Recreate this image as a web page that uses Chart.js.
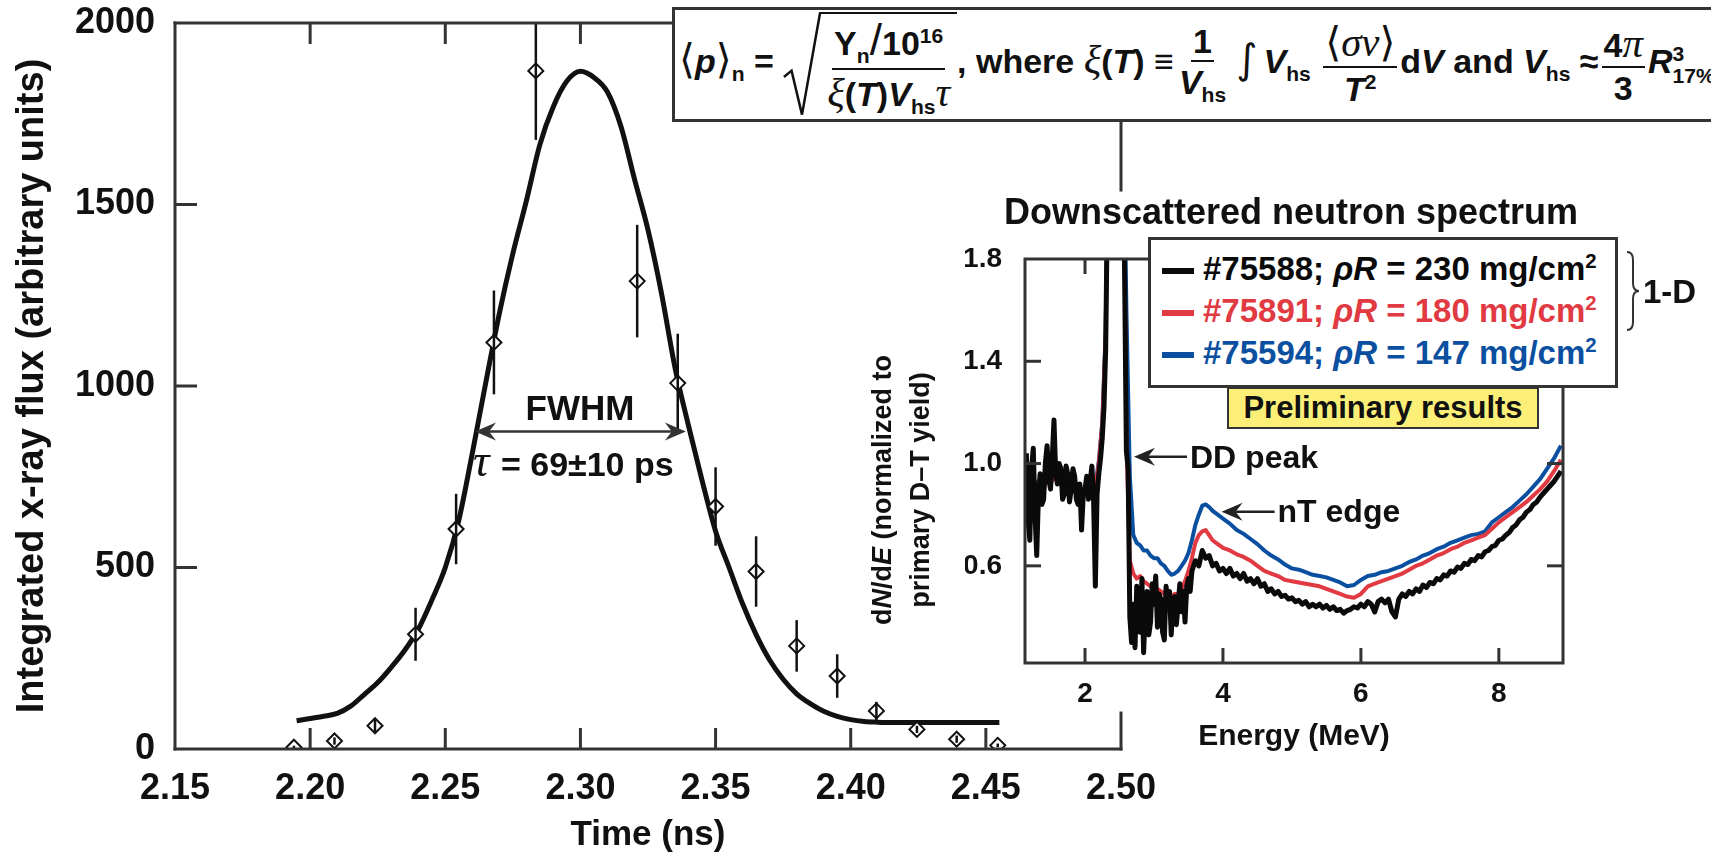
<!DOCTYPE html>
<html>
<head>
<meta charset="utf-8">
<script src="https://cdn.jsdelivr.net/npm/chart.js@4.4.1/dist/chart.umd.min.js"></script>
<style>
  html, body { margin: 0; padding: 0; background: #fff; }
  body {
    width: 1711px; height: 853px; position: relative; overflow: hidden;
    font-family: "Liberation Sans", Arial, sans-serif; font-weight: bold; color: #111;
  }
  canvas { position: absolute; }
  #mainChart { left: 0; top: 0; }
  #insetChart { left: 850px; top: 185px; }

  #formula {
    position: absolute; left: 672px; top: 7px; width: 1120px; height: 115px;
    box-sizing: border-box; border: 3px solid #333; background: #fff;
    display: flex; align-items: center; padding-left: 4px;
    font-size: 34px; white-space: nowrap; line-height: 1;
  }
  #formula i { font-style: italic; }
  #formula .g { font-family: "Liberation Serif", "DejaVu Serif", serif; font-size: 1.2em; font-weight: normal; }
  #formula .ang { font-family: "DejaVu Sans", sans-serif; font-weight: normal; font-size: 1.2em; }
  #formula sub, #formula sup { font-size: 0.62em; }
  #formula .frac { display: inline-flex; flex-direction: column; align-items: center; vertical-align: middle; margin: 0 3px; }
  #formula .num { border-bottom: 2.5px solid #111; padding: 0 2px 2px; }
  #formula .den { padding: 3px 2px 0; }
  #formula .sqrt { position: relative; display: inline-block; vertical-align: middle; padding-left: 36px; }
  #formula .sqrt svg { position: absolute; left: 0; top: 0; width: 38px; height: 100%; overflow: visible; }
  #formula .sqrt path { fill: none; stroke: #111; stroke-width: 2.5; vector-effect: non-scaling-stroke; }
  #formula .rad { display: inline-block; border-top: 2.5px solid #111; padding: 4px 2px 0 3px; }
  #formula .sl { font-size: 1.3em; font-weight: normal; }
  #formula .int { font-family: "DejaVu Sans", sans-serif; font-weight: normal; font-size: 1.2em; margin: 0 6px 0 5px; }
  #formula .ss { display: inline-flex; flex-direction: column; vertical-align: middle; font-size: 0.62em; line-height: 1; }

  #legendBox {
    position: absolute; left: 1148px; top: 237px; width: 470px; height: 151px;
    box-sizing: border-box; border: 3px solid #333; background: #fff;
    padding: 8px 0 0 11px; font-size: 33px;
  }
  #legendBox .row { height: 42px; line-height: 42px; white-space: nowrap; }
  #legendBox .sw { display: inline-block; width: 32px; height: 6px; vertical-align: middle; margin-right: 9px; }
  #legendBox sup { font-size: 0.62em; vertical-align: 0.6em; line-height: 0; }

  #prelim {
    position: absolute; left: 1227px; top: 387px; width: 312px; height: 42px;
    box-sizing: border-box; border: 2px solid #333; background: #fbef77;
    font-size: 31px; text-align: center; line-height: 38px;
  }
</style>
</head>
<body>
<canvas id="mainChart" width="1711" height="853"></canvas>
<canvas id="insetChart" width="861" height="580"></canvas>

<div id="formula"><span>
  <span class="ang">⟨</span><i>p</i><span class="ang">⟩</span><sub>n</sub> =
  <span class="sqrt"><svg viewBox="0 0 40 100" preserveAspectRatio="none"><path d="M1 62 L9 56 L20 98 L39 1" /></svg><span class="rad"><span class="frac"><span class="num">Y<sub>n</sub><span class="sl">/</span>10<sup>16</sup></span><span class="den"><i class="g">ξ</i>(<i>T</i>)<i>V</i><sub>hs</sub><i class="g">τ</i></span></span></span></span>, where <i class="g">ξ</i>(<i>T</i>) ≡<span class="frac"><span class="num">1</span><span class="den"><i>V</i><sub>hs</sub></span></span><span class="int">∫</span><i>V</i><sub>hs</sub>
  <span class="frac"><span class="num"><span class="ang">⟨</span><i class="g">σν</i><span class="ang">⟩</span></span><span class="den"><i>T</i><sup>2</sup></span></span>d<i>V</i> and <i>V</i><sub>hs</sub> ≈<span class="frac"><span class="num">4<i class="g">π</i></span><span class="den">3</span></span><i>R</i><span class="ss"><span>3</span><span>17%</span></span>
</span></div>

<div id="legendBox"></div>
<div id="prelim">Preliminary results</div>

<script>
// ---- main plot: x-ray flux vs time ----
const timeTicks = [2.15, 2.20, 2.25, 2.30, 2.35, 2.40, 2.45, 2.50]
const fluxTicks = [0, 500, 1000, 1500, 2000]

// fitted curve
const fitTime = [2.195, 2.200, 2.205, 2.210, 2.215, 2.220, 2.225, 2.230, 2.235, 2.240, 2.245, 2.250,
  2.255, 2.260, 2.265, 2.270, 2.275, 2.280, 2.285, 2.290, 2.295, 2.300, 2.305, 2.310, 2.315, 2.320,
  2.325, 2.330, 2.335, 2.340, 2.345, 2.350, 2.355, 2.360, 2.365, 2.370, 2.375, 2.380, 2.385, 2.390,
  2.395, 2.400, 2.405, 2.410, 2.415, 2.455]
const fitFlux = [78, 84, 90, 98, 118, 150, 183, 225, 272, 330, 410, 500,
  630, 815, 1010, 1200, 1365, 1510, 1665, 1770, 1840, 1867, 1850, 1810, 1715, 1570,
  1430, 1255, 1050, 890, 740, 600, 500, 400, 315, 245, 192, 152, 125, 104,
  90, 81, 76, 74, 73, 73]

// measured points with error bars
const dataTime = [2.194, 2.209, 2.224, 2.239, 2.254, 2.268, 2.2835, 2.321, 2.336, 2.350, 2.365,
  2.380, 2.395, 2.4095, 2.4245, 2.4392, 2.4544]
const dataFlux = [5, 22, 64, 316, 606, 1120, 1868, 1289, 1008, 668, 489, 284, 201, 105, 54, 27, 10]
const dataErr = [4, 10, 18, 73, 97, 143, 190, 155, 136, 108, 97, 71, 60, 25, 10, 10, 5]

// ---- inset: downscattered neutron spectrum ----
const energyTicks = [2, 4, 6, 8]
const dndeTicks = [0.6, 1.0, 1.4, 1.8]
const shots = ["#75588", "#75891", "#75594"]
const rhoR = [230, 180, 147]
const shotColors = ["#0a0a0a", "#e13a42", "#0b50a0"]

// #75588 (black), sampled finer where it is noisy
const energy75588 = [
  1.150, 1.175, 1.200, 1.225, 1.250, 1.275, 1.300, 1.325, 1.350, 1.375,
  1.400, 1.425, 1.450, 1.475, 1.500, 1.525, 1.550, 1.575, 1.600, 1.625,
  1.650, 1.675, 1.700, 1.725, 1.750, 1.775, 1.800, 1.825, 1.850, 1.875,
  1.900, 1.925, 1.950, 1.975, 2.000, 2.025, 2.050, 2.075, 2.100, 2.125,
  2.150, 2.175, 2.200, 2.225, 2.250, 2.275, 2.300,
  2.35, 2.40, 2.45, 2.50, 2.55, 2.60,
  2.625, 2.650, 2.675, 2.700, 2.725, 2.750, 2.775, 2.800, 2.825, 2.850,
  2.875, 2.900, 2.925, 2.950, 2.975, 3.000, 3.025, 3.050, 3.075, 3.100,
  3.125, 3.150, 3.175, 3.200, 3.225, 3.250, 3.275, 3.300, 3.325, 3.350,
  3.375, 3.400, 3.425, 3.450, 3.475, 3.500, 3.525, 3.550,
  3.60, 3.65, 3.70, 3.75, 3.80, 3.85, 3.90, 3.95, 4.00, 4.05,
  4.10, 4.15, 4.20, 4.25, 4.30, 4.35, 4.40, 4.45, 4.50, 4.55,
  4.60, 4.65, 4.70, 4.75, 4.80, 4.85, 4.90, 4.95, 5.00, 5.05,
  5.10, 5.15, 5.20, 5.25, 5.30, 5.35, 5.40, 5.45, 5.50, 5.55,
  5.60, 5.65, 5.70, 5.75, 5.80, 5.85, 5.90, 5.95, 6.00, 6.05,
  6.10, 6.15, 6.20, 6.25, 6.30, 6.35, 6.40, 6.45, 6.50, 6.55,
  6.60, 6.65, 6.70, 6.75, 6.80, 6.85, 6.90, 6.95, 7.00, 7.05,
  7.10, 7.15, 7.20, 7.25, 7.30, 7.35, 7.40, 7.45, 7.50, 7.55,
  7.60, 7.65, 7.70, 7.75, 7.80, 7.85, 7.90, 7.95, 8.00, 8.05,
  8.10, 8.15, 8.20, 8.25, 8.30, 8.35, 8.40, 8.45, 8.50, 8.55,
  8.60, 8.65, 8.70, 8.75, 8.80, 8.85, 8.90]
const spec75588 = [
  1.04, 0.78, 0.70, 0.98, 1.06, 0.80, 0.64, 0.88, 0.96, 0.84,
  0.86, 1.00, 1.07, 0.94, 0.90, 1.02, 1.17, 0.96, 0.92, 1.00,
  0.98, 0.86, 0.88, 0.99, 0.96, 0.85, 0.90, 0.98, 0.95, 0.86,
  0.84, 0.92, 0.74, 0.88, 0.90, 0.95, 0.86, 0.93, 0.99, 0.85,
  0.52, 0.88, 0.96, 1.02, 1.10, 1.22, 1.45,
  2.60, 3.00, 3.20, 3.00, 2.40, 1.05,
  0.98, 0.40, 0.30, 0.45, 0.28, 0.52, 0.40, 0.34, 0.55, 0.26,
  0.44, 0.50, 0.33, 0.38, 0.53, 0.45, 0.56, 0.36, 0.49, 0.47,
  0.34, 0.31, 0.52, 0.44, 0.50, 0.33, 0.46, 0.48, 0.37, 0.45,
  0.53, 0.42, 0.50, 0.38, 0.52, 0.55, 0.50, 0.58,
  0.62, 0.60, 0.66, 0.63, 0.64, 0.60, 0.61, 0.58, 0.59, 0.57,
  0.59, 0.56, 0.57, 0.55, 0.57, 0.54, 0.55, 0.53, 0.55, 0.52,
  0.53, 0.50, 0.51, 0.49, 0.50, 0.48, 0.485, 0.47, 0.475, 0.46,
  0.465, 0.45, 0.46, 0.44, 0.45, 0.44, 0.45, 0.435, 0.445, 0.43,
  0.44, 0.425, 0.43, 0.415, 0.425, 0.43, 0.44, 0.435, 0.45, 0.44,
  0.46, 0.45, 0.42, 0.46, 0.47, 0.455, 0.47, 0.42, 0.40, 0.47,
  0.49, 0.48, 0.50, 0.49, 0.51, 0.50, 0.525, 0.515, 0.535, 0.53,
  0.55, 0.545, 0.565, 0.56, 0.58, 0.575, 0.595, 0.59, 0.61, 0.605,
  0.625, 0.62, 0.64, 0.635, 0.655, 0.66, 0.675, 0.68, 0.70, 0.705,
  0.72, 0.73, 0.75, 0.76, 0.78, 0.79, 0.81, 0.82, 0.84, 0.85,
  0.87, 0.885, 0.90, 0.915, 0.93, 0.95, 0.97]

// #75891 (red) and #75594 (blue)
const energy = [1.15, 1.20, 1.25, 1.30, 1.35, 1.40, 1.45, 1.50, 1.55, 1.60, 1.65, 1.70, 1.75, 1.80,
  1.85, 1.90, 1.95, 2.00, 2.05, 2.10, 2.15, 2.20, 2.25, 2.30, 2.35, 2.40, 2.45, 2.50, 2.55, 2.60,
  2.65, 2.70, 2.75, 2.80, 2.85, 2.90, 2.95, 3.00, 3.05, 3.10, 3.15, 3.20, 3.25, 3.30, 3.35, 3.40,
  3.45, 3.50, 3.55, 3.60, 3.65, 3.70, 3.75, 3.80, 3.85,
  3.9, 4.0, 4.1, 4.2, 4.3, 4.4, 4.5, 4.6, 4.7, 4.8, 4.9, 5.0, 5.1, 5.2, 5.3, 5.4, 5.5, 5.6, 5.7,
  5.8, 5.9, 6.0, 6.1, 6.2, 6.3, 6.4, 6.5, 6.6, 6.7, 6.8, 6.9, 7.0, 7.1, 7.2, 7.3, 7.4, 7.5, 7.6,
  7.7, 7.8, 7.9, 8.0, 8.1, 8.2, 8.3, 8.4, 8.5, 8.6, 8.7, 8.8, 8.9]

const spec75891 = [0.95, 0.92, 0.93, 0.90, 0.92, 0.91, 0.93, 0.92, 0.95, 0.93, 0.94, 0.92, 0.93, 0.92,
  0.92, 0.90, 0.88, 0.90, 0.90, 0.95, 0.90, 1.00, 1.15, 1.50, 2.60, 3.00, 3.20, 3.00, 2.45, 1.10,
  0.62, 0.57, 0.55, 0.56, 0.54, 0.53, 0.52, 0.52, 0.51, 0.50, 0.49, 0.49, 0.48, 0.49, 0.49, 0.51,
  0.54, 0.58, 0.63, 0.69, 0.72, 0.735, 0.74, 0.72, 0.70,
  0.69, 0.67, 0.66, 0.645, 0.635, 0.62, 0.60, 0.58, 0.57, 0.56, 0.545, 0.54, 0.535, 0.53, 0.525, 0.52,
  0.51, 0.50, 0.49, 0.48, 0.475, 0.49, 0.52, 0.53, 0.54, 0.55, 0.56, 0.57, 0.585, 0.60, 0.61, 0.625,
  0.64, 0.65, 0.665, 0.675, 0.69, 0.70, 0.71, 0.72, 0.745, 0.77, 0.79, 0.81, 0.83, 0.85, 0.875, 0.90,
  0.93, 0.97, 1.015]

const spec75594 = [1.02, 0.95, 0.94, 0.92, 0.93, 0.92, 0.94, 0.93, 0.96, 0.94, 0.95, 0.93, 0.94, 0.93,
  0.93, 0.91, 0.89, 0.91, 0.91, 0.96, 0.91, 1.01, 1.16, 1.52, 2.60, 3.00, 3.20, 3.00, 2.50, 1.60,
  0.95, 0.72, 0.69, 0.68, 0.66, 0.66, 0.64, 0.63, 0.63, 0.61, 0.60, 0.58, 0.565, 0.57, 0.58, 0.60,
  0.62, 0.65, 0.70, 0.76, 0.80, 0.835, 0.84, 0.83, 0.815,
  0.805, 0.785, 0.765, 0.74, 0.725, 0.705, 0.685, 0.66, 0.64, 0.625, 0.605, 0.59, 0.585, 0.575, 0.565, 0.56,
  0.555, 0.545, 0.535, 0.52, 0.525, 0.545, 0.56, 0.565, 0.575, 0.58, 0.59, 0.60, 0.615, 0.625, 0.64, 0.65,
  0.665, 0.675, 0.69, 0.70, 0.71, 0.72, 0.725, 0.735, 0.77, 0.79, 0.81, 0.83, 0.855, 0.88, 0.91, 0.94,
  0.98, 1.02, 1.07]

const FONT = '"Liberation Sans", Arial, sans-serif'
const INK = "#111"
const AXIS = "#333"

function line(ctx, x1, y1, x2, y2) {
  ctx.beginPath()
  ctx.moveTo(x1, y1)
  ctx.lineTo(x2, y2)
  ctx.stroke()
}

// barbed arrow head, dir = -1 points left, +1 points right
function arrowHead(ctx, x, y, dir) {
  ctx.beginPath()
  ctx.moveTo(x, y)
  ctx.lineTo(x - dir * 21, y - 9)
  ctx.lineTo(x - dir * 14, y)
  ctx.lineTo(x - dir * 21, y + 9)
  ctx.closePath()
  ctx.fill()
}

// text made of plain and italic pieces
function drawRich(ctx, parts, x, y, size, align) {
  const fontOf = (p) => (p[1] ? "italic " : "") + "bold " + size + "px " + FONT
  let total = 0
  parts.forEach((p) => { ctx.font = fontOf(p); total += ctx.measureText(p[0]).width })
  let cx = align === "center" ? x - total / 2 : x
  ctx.textAlign = "left"
  parts.forEach((p) => {
    ctx.font = fontOf(p)
    ctx.fillText(p[0], cx, y)
    cx += ctx.measureText(p[0]).width
  })
}

const mainDecor = {
  id: "mainDecor",
  afterDatasetsDraw(chart) {
    const { ctx, chartArea: a, scales: { x, y } } = chart
    // error bars
    ctx.save()
    ctx.beginPath()
    ctx.rect(a.left, a.top, a.right - a.left, a.bottom - a.top)
    ctx.clip()
    ctx.strokeStyle = INK
    ctx.lineWidth = 2.5
    dataTime.forEach((t, i) => {
      const px = x.getPixelForValue(t)
      line(ctx, px, y.getPixelForValue(dataFlux[i] + dataErr[i]), px, y.getPixelForValue(dataFlux[i] - dataErr[i]))
    })
    ctx.restore()

    // frame with inward ticks; right side hidden behind the inset
    ctx.save()
    ctx.strokeStyle = AXIS
    ctx.lineWidth = 3
    ctx.lineCap = "square"
    line(ctx, a.left, a.top, a.left, a.bottom)
    line(ctx, a.left, a.bottom, a.right, a.bottom)
    line(ctx, a.left, a.top, a.right, a.top)
    line(ctx, a.right, a.top, a.right, 190)
    line(ctx, a.right, 713, a.right, a.bottom)
    ctx.lineCap = "butt"
    timeTicks.slice(1, -1).forEach((t) => {
      const px = x.getPixelForValue(t)
      line(ctx, px, a.bottom, px, a.bottom - 21)
      line(ctx, px, a.top, px, a.top + 21)
    })
    fluxTicks.slice(1, -1).forEach((v) => {
      const py = y.getPixelForValue(v)
      line(ctx, a.left, py, a.left + 22, py)
    })

    // FWHM marker
    const xl = x.getPixelForValue(2.261)
    const xr = x.getPixelForValue(2.339)
    const ya = y.getPixelForValue(875)
    ctx.strokeStyle = AXIS
    ctx.fillStyle = AXIS
    ctx.lineWidth = 2.5
    line(ctx, xl + 12, ya, xr - 12, ya)
    arrowHead(ctx, xl, ya, -1)
    arrowHead(ctx, xr, ya, 1)
    ctx.fillStyle = INK
    ctx.textBaseline = "alphabetic"
    ctx.textAlign = "center"
    ctx.font = "bold 35px " + FONT
    ctx.fillText("FWHM", 580, ya - 11)
    ctx.textAlign = "left"
    ctx.font = "italic 46px 'Liberation Serif', 'DejaVu Serif', serif"
    ctx.fillText("τ", xl - 2, ya + 45)
    const tw = ctx.measureText("τ").width
    ctx.font = "bold 34px " + FONT
    ctx.fillText(" = 69±10 ps", xl - 2 + tw + 2, ya + 45)
    ctx.restore()
  },
}

new Chart(document.getElementById("mainChart"), {
  type: "line",
  data: {
    datasets: [
      {
        type: "scatter",
        label: "Measured",
        data: dataTime.map((t, i) => ({ x: t, y: dataFlux[i] })),
        pointStyle: "rectRot",
        pointRadius: 7.5,
        pointBackgroundColor: "#fff",
        pointBorderColor: INK,
        pointBorderWidth: 2,
      },
      {
        label: "Fit",
        data: fitTime.map((t, i) => ({ x: t, y: fitFlux[i] })),
        borderColor: INK,
        borderWidth: 5,
        pointRadius: 0,
        cubicInterpolationMode: "monotone",
        fill: false,
      },
    ],
  },
  options: {
    responsive: false,
    animation: false,
    layout: { padding: { left: 0, top: 23, right: 590, bottom: 0 } },
    plugins: { legend: { display: false }, tooltip: { enabled: false } },
    scales: {
      x: {
        type: "linear",
        min: 2.15,
        max: 2.5,
        afterBuildTicks: (s) => { s.ticks = timeTicks.map((v) => ({ value: v })) },
        afterFit: (s) => { s.height = 104 },
        grid: { display: false },
        border: { display: false },
        ticks: {
          color: INK, autoSkip: false, maxRotation: 0, padding: 10,
          font: { family: FONT, size: 36, weight: "bold" },
          callback: (v) => Number(v).toFixed(2),
        },
        title: {
          display: true, text: "Time (ns)", color: INK,
          font: { family: FONT, size: 35, weight: "bold", lineHeight: 1 },
          padding: { top: 0, bottom: 0 },
        },
      },
      y: {
        type: "linear",
        min: 0,
        max: 2000,
        afterBuildTicks: (s) => { s.ticks = fluxTicks.map((v) => ({ value: v })) },
        afterFit: (s) => { s.width = 175 },
        grid: { display: false },
        border: { display: false },
        ticks: {
          color: INK, padding: 12,
          font: { family: FONT, size: 36, weight: "bold", lineHeight: 0.6 },
          callback: (v) => String(v),
        },
        title: {
          display: true, text: "Integrated x-ray flux (arbitrary units)", color: INK,
          font: { family: FONT, size: 38, weight: "bold", lineHeight: 1 },
          padding: { top: 14, bottom: 0 },
        },
      },
    },
  },
  plugins: [mainDecor],
})

const insetDecor = {
  id: "insetDecor",
  afterDatasetsDraw(chart) {
    const { ctx, chartArea: a, scales: { x, y } } = chart
    ctx.save()
    ctx.strokeStyle = AXIS
    ctx.lineWidth = 3
    ctx.lineCap = "square"
    ctx.strokeRect(a.left, a.top, a.right - a.left, a.bottom - a.top)
    ctx.lineCap = "butt"
    energyTicks.forEach((e) => {
      const px = x.getPixelForValue(e)
      line(ctx, px, a.bottom, px, a.bottom - 15)
      line(ctx, px, a.top, px, a.top + 15)
    })
    dndeTicks.slice(0, -1).forEach((v) => {
      const py = y.getPixelForValue(v)
      line(ctx, a.left, py, a.left + 16, py)
      line(ctx, a.right, py, a.right - 16, py)
    })

    ctx.fillStyle = INK
    ctx.textBaseline = "alphabetic"

    // title
    ctx.textAlign = "center"
    ctx.font = "bold 36px " + FONT
    ctx.fillText("Downscattered neutron spectrum", (a.left + a.right) / 2 - 3, 39)

    // y title, two rotated lines
    ctx.save()
    ctx.translate(34, 305)
    ctx.rotate(-Math.PI / 2)
    ctx.textBaseline = "middle"
    drawRich(ctx, [["d", false], ["N", true], ["/d", false], ["E", true], [" (normalized to", false]], 0, 0, 27, "center")
    ctx.restore()
    ctx.save()
    ctx.translate(72, 305)
    ctx.rotate(-Math.PI / 2)
    ctx.textBaseline = "middle"
    drawRich(ctx, [["primary D–T yield)", false]], 0, 0, 27, "center")
    ctx.restore()

    // arrows to features
    ctx.strokeStyle = "#222"
    ctx.fillStyle = "#222"
    ctx.lineWidth = 2.5
    const dd = { x: x.getPixelForValue(2.71), y: y.getPixelForValue(1.027) }
    line(ctx, dd.x + 14, dd.y, dd.x + 53, dd.y)
    arrowHead(ctx, dd.x, dd.y, -1)
    const nt = { x: x.getPixelForValue(3.98), y: y.getPixelForValue(0.812) }
    line(ctx, nt.x + 14, nt.y, nt.x + 53, nt.y)
    arrowHead(ctx, nt.x, nt.y, -1)
    ctx.fillStyle = INK
    ctx.textAlign = "left"
    ctx.font = "bold 32px " + FONT
    ctx.fillText("DD peak", dd.x + 56, dd.y + 11)
    ctx.fillText("nT edge", nt.x + 56, nt.y + 10)

    // brace for the 1-D group
    const bx = 777, bt = 67, bb = 145, bm = 106
    ctx.strokeStyle = AXIS
    ctx.lineWidth = 2
    ctx.beginPath()
    ctx.moveTo(bx, bt)
    ctx.quadraticCurveTo(bx + 6, bt, bx + 6, bt + 8)
    ctx.lineTo(bx + 6, bm - 8)
    ctx.quadraticCurveTo(bx + 6, bm, bx + 12, bm)
    ctx.quadraticCurveTo(bx + 6, bm, bx + 6, bm + 8)
    ctx.lineTo(bx + 6, bb - 8)
    ctx.quadraticCurveTo(bx + 6, bb, bx, bb)
    ctx.stroke()
    ctx.font = "bold 33px " + FONT
    ctx.fillText("1-D", bx + 16, bm + 12)
    ctx.restore()
  },
}

const spectra = [
  { e: energy75588, v: spec75588, w: 5 },
  { e: energy, v: spec75891, w: 4 },
  { e: energy, v: spec75594, w: 4 },
]
new Chart(document.getElementById("insetChart"), {
  type: "line",
  data: {
    datasets: spectra.map((s, k) => ({
      label: shots[k] + "; ρR = " + rhoR[k] + " mg/cm²",
      data: s.e.map((e, i) => ({ x: e, y: s.v[i] })),
      borderColor: shotColors[k],
      borderWidth: s.w,
      pointRadius: 0,
      tension: 0,
      borderJoinStyle: "round",
      fill: false,
    })),
  },
  options: {
    responsive: false,
    animation: false,
    layout: { padding: { left: 115, top: 74, right: 148, bottom: 0 } },
    plugins: { legend: { display: false }, tooltip: { enabled: false } },
    scales: {
      x: {
        type: "linear",
        min: 1.13,
        max: 8.93,
        afterBuildTicks: (s) => { s.ticks = energyTicks.map((v) => ({ value: v })) },
        afterFit: (s) => { s.height = 102 },
        grid: { display: false },
        border: { display: false },
        ticks: {
          color: INK, autoSkip: false, maxRotation: 0, padding: 6,
          font: { family: FONT, size: 28, weight: "bold" },
          callback: (v) => String(v),
        },
        title: {
          display: true, text: "Energy (MeV)", color: INK,
          font: { family: FONT, size: 30, weight: "bold", lineHeight: 1 },
          padding: { top: 0, bottom: 13 },
        },
      },
      y: {
        type: "linear",
        min: 0.22,
        max: 1.8,
        afterBuildTicks: (s) => { s.ticks = dndeTicks.map((v) => ({ value: v })) },
        afterFit: (s) => { s.width = 60 },
        grid: { display: false },
        border: { display: false },
        ticks: {
          color: INK, padding: 15,
          font: { family: FONT, size: 28, weight: "bold" },
          callback: (v) => Number(v).toFixed(1),
        },
      },
    },
  },
  plugins: [insetDecor],
})

// legend box built from the shot arrays
const legendBox = document.getElementById("legendBox")
shots.forEach((s, k) => {
  const row = document.createElement("div")
  row.className = "row"
  row.style.color = shotColors[k]
  row.innerHTML = '<span class="sw" style="background:' + shotColors[k] + '"></span>' +
    s + "; <i>ρR</i> = " + rhoR[k] + " mg/cm<sup>2</sup>"
  legendBox.appendChild(row)
})
</script>
</body>
</html>
